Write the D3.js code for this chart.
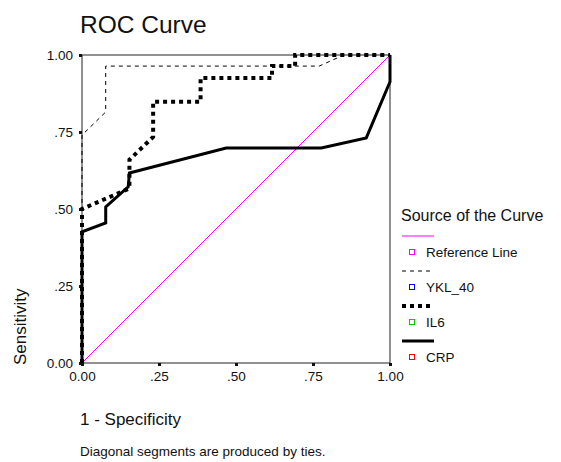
<!DOCTYPE html>
<html>
<head>
<meta charset="utf-8">
<script src="https://cdn.jsdelivr.net/npm/d3@7"></script>
<style>
  body { margin: 0; background: #fff; }
  text { font-family: "Liberation Sans", Arial, sans-serif; fill: #111; }
</style>
</head>
<body>
<div id="chartContainer"></div>
<script>
// tick values / labels
var tickValues = [0, 0.25, 0.5, 0.75, 1];
var tickLabels = ["0.00", ".25", ".50", ".75", "1.00"];

// curves (1 - specificity, sensitivity)
var refX = [0, 1];
var refY = [0, 1];

var yklX = [0, 0, 0.077, 0.077, 0.77, 0.85, 1];
var yklY = [0, 0.74, 0.815, 0.964, 0.964, 1, 1];

var il6X = [0, 0, 0.150, 0.154, 0.154, 0.231, 0.231, 0.385, 0.385, 0.617, 0.617, 0.692, 0.692, 1];
var il6Y = [0, 0.50, 0.565, 0.57, 0.66, 0.734, 0.848, 0.848, 0.925, 0.925, 0.964, 0.964, 1, 1];

var crpX = [0, 0, 0.077, 0.077, 0.150, 0.154, 0.468, 0.777, 0.923, 1, 1];
var crpY = [0, 0.426, 0.455, 0.507, 0.572, 0.617, 0.698, 0.698, 0.731, 0.913, 1];

var seriesNames = ["Reference Line", "YKL_40", "IL6", "CRP"];
var markerColors = ["#ff00ff", "#0000ff", "#00cc00", "#ff0000"];

var W = 561, H = 462;
var margin = { top: 55, left: 82 };
var plotW = 308, plotH = 308;

var lineStyles = [
    { stroke: "#ff00ff", width: 1, dash: null },
    { stroke: "#000", width: 1, dash: "4,4" },
    { stroke: "#000", width: 4, dash: "4,4" },
    { stroke: "#000", width: 3, dash: null }
];

function zip(xs, ys) {
    var out = [];
    for (var i = 0; i < xs.length; i++) out.push({ x: xs[i], y: ys[i] });
    return out;
}

var svg = d3.select("#chartContainer")
    .append("svg")
    .attr("width", W)
    .attr("height", H);

var x = d3.scaleLinear().domain([0, 1]).range([0, plotW]);
var y = d3.scaleLinear().domain([0, 1]).range([plotH, 0]);

// title
svg.append("text")
    .attr("x", 80).attr("y", 33)
    .style("font-size", "24.5px")
    .text("ROC Curve");

var g = svg.append("g")
    .attr("transform", `translate(${margin.left}, ${margin.top})`);

// frame
g.append("rect")
    .attr("x", 0).attr("y", 0)
    .attr("width", plotW).attr("height", plotH)
    .attr("fill", "none")
    .attr("stroke", "#222")
    .attr("stroke-width", 1);

// axes: small square ticks, labels
var xAxis = d3.axisBottom(x).tickValues(tickValues)
    .tickFormat(function (d, i) { return tickLabels[i]; })
    .tickSize(3).tickPadding(5);
var xg = g.append("g").attr("transform", `translate(0, ${plotH})`).call(xAxis);

var yAxis = d3.axisLeft(y).tickValues(tickValues)
    .tickFormat(function (d, i) { return tickLabels[i]; })
    .tickSize(3).tickPadding(6);
var yg = g.append("g").call(yAxis);

[xg, yg].forEach(function (ax) {
    ax.select(".domain").remove();
    ax.selectAll(".tick line").attr("stroke", "#111").attr("stroke-width", 3);
    ax.selectAll(".tick text")
        .style("font-family", "'Liberation Sans', Arial, sans-serif")
        .style("font-size", "13.5px")
        .attr("fill", "#1a1a3a");
});

// curves
var line = d3.line()
    .x(function (d) { return x(d.x); })
    .y(function (d) { return y(d.y); });

var curves = [zip(refX, refY), zip(yklX, yklY), zip(il6X, il6Y), zip(crpX, crpY)];
var drawOrder = [0, 3, 2, 1];
drawOrder.forEach(function (i) {
    var s = lineStyles[i];
    g.append("path")
        .datum(curves[i])
        .attr("fill", "none")
        .attr("stroke", s.stroke)
        .attr("stroke-width", s.width)
        .attr("stroke-dasharray", s.dash)
        .attr("d", line);
});

// axis titles
svg.append("text")
    .attr("transform", "translate(26, 365) rotate(-90)")
    .style("font-size", "17px")
    .text("Sensitivity");

svg.append("text")
    .attr("x", 80).attr("y", 425)
    .style("font-size", "17px")
    .text("1 - Specificity");

svg.append("text")
    .attr("x", 80).attr("y", 456)
    .style("font-size", "13.5px")
    .text("Diagonal segments are produced by ties.");

// legend
var legend = svg.append("g");
legend.append("text")
    .attr("x", 401).attr("y", 221)
    .style("font-size", "16px")
    .text("Source of the Curve");

var legendY0 = 236, legendStep = 35;
seriesNames.forEach(function (name, i) {
    var ly = legendY0 + i * legendStep;
    var s = lineStyles[i];
    legend.append("line")
        .attr("x1", 402).attr("x2", 434)
        .attr("y1", ly).attr("y2", ly)
        .attr("stroke", s.stroke)
        .attr("stroke-width", s.width)
        .attr("stroke-dasharray", s.dash);
    legend.append("rect")
        .attr("x", 409.5).attr("y", ly + 13.5)
        .attr("width", 5).attr("height", 5)
        .attr("fill", "none")
        .attr("stroke", markerColors[i])
        .attr("stroke-width", 1);
    legend.append("text")
        .attr("x", 426).attr("y", ly + 21)
        .style("font-size", "13.5px")
        .text(name);
});
</script>
</body>
</html>
